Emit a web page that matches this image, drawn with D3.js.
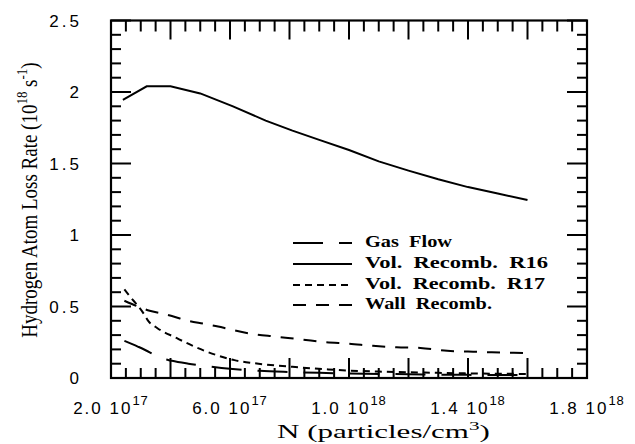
<!DOCTYPE html>
<html>
<head>
<meta charset="utf-8">
<script src="https://cdn.jsdelivr.net/npm/d3@7"></script>
<style>
  body { margin: 0; background: #fff; }
  svg { display: block; }
  .tick-label { font-family: "Liberation Sans", Arial, sans-serif; font-size: 17px; letter-spacing: 2px; fill: #000; }
  .serif { font-family: "Liberation Serif", "Times New Roman", serif; fill: #000; }
</style>
</head>
<body>
<svg id="chart" width="635" height="444"></svg>
<script>
// Density N in units of 1e17 particles/cm^3, loss rates in units of 1e18 s^-1
const gasFlowN    = [2.45, 2.9, 3.3, 3.55, 4.05, 4.6, 5.15, 6.0, 7.0, 8.0, 9.0, 10.0, 12.0, 14.0, 16.0];
const gasFlowRate = [0.26, 0.22, 0.18, 0.15, 0.12, 0.10, 0.085, 0.065, 0.05, 0.042, 0.036, 0.032, 0.026, 0.022, 0.02];

const r16N    = [2.4, 3.2, 4.0, 5.0, 6.1, 7.2, 8.1, 9.0, 10.0, 11.0, 12.0, 13.0, 14.0, 15.0, 16.0];
const r16Rate = [1.945, 2.04, 2.04, 1.99, 1.90, 1.80, 1.73, 1.665, 1.594, 1.515, 1.45, 1.39, 1.335, 1.29, 1.245];

const r17N    = [2.45, 2.6, 3.1, 3.25, 3.55, 4.2, 4.85, 5.55, 6.15, 6.75, 7.5, 8.1, 8.7, 9.3, 10.0, 11.0, 12.0, 13.0, 14.0, 15.0, 16.0];
const r17Rate = [0.62, 0.58, 0.45, 0.40, 0.35, 0.28, 0.215, 0.16, 0.125, 0.105, 0.088, 0.078, 0.068, 0.06, 0.052, 0.045, 0.04, 0.036, 0.032, 0.03, 0.028];

const wallN    = [2.45, 2.9, 3.3, 3.75, 4.1, 4.6, 5.1, 5.6, 6.0, 6.7, 7.5, 8.4, 9.2, 10.0, 10.8, 11.6, 12.4, 13.3, 14.0, 14.8, 15.85];
const wallRate = [0.54, 0.50, 0.47, 0.45, 0.43, 0.40, 0.38, 0.36, 0.34, 0.31, 0.29, 0.27, 0.25, 0.24, 0.225, 0.215, 0.21, 0.19, 0.185, 0.18, 0.175];

const seriesNames  = ["Gas  Flow", "Vol.  Recomb.  R16", "Vol.  Recomb.  R17", "Wall  Recomb."];
const seriesDashes = ["30,16", null, "7,5", "13,10"];
const legendWidths = [87, 183, 180, 127];

const xTickValues    = [2, 6, 10, 14, 18];
const xTickMantissas = ["2.0", "6.0", "1.0", "1.4", "1.8"];
const xTickExponents = ["17", "17", "18", "18", "18"];
const yTickValues    = [0, 0.5, 1, 1.5, 2, 2.5];
const yTickLabels    = ["0", "0.5", "1", "1.5", "2", "2.5"];

const svg = d3.select("#chart");
const plotLeft = 111, plotRight = 587, plotTop = 20.5, plotBottom = 378;

const x = d3.scaleLinear().domain([2, 18]).range([plotLeft, plotRight]);
const y = d3.scaleLinear().domain([0, 2.5]).range([plotBottom, plotTop]);

const xMajor = d3.range(2, 18.001, 2);
const xMinor = d3.range(2, 18.001, 0.5).filter(v => Math.abs(v / 2 - Math.round(v / 2)) > 1e-6);
const yMinor = d3.range(0, 2.5001, 0.1).filter(v => Math.abs(v / 0.5 - Math.round(v / 0.5)) > 1e-6);

// Inward tick marks on all four sides of the frame
const ticks = svg.append("g").attr("stroke", "#000").attr("stroke-width", 2);
function vTicks(values, edge, len) {
  ticks.append("g").selectAll("line").data(values).join("line")
    .attr("x1", d => x(d)).attr("x2", d => x(d))
    .attr("y1", edge).attr("y2", edge + len);
}
function hTicks(values, edge, len) {
  ticks.append("g").selectAll("line").data(values).join("line")
    .attr("y1", d => y(d)).attr("y2", d => y(d))
    .attr("x1", edge).attr("x2", edge + len);
}
vTicks(xMajor, plotTop, 19);
vTicks(xMinor, plotTop, 11);
vTicks(xMajor, plotBottom, -20);
vTicks(xMinor, plotBottom, -10);
hTicks(yTickValues, plotLeft, 20);
hTicks(yMinor, plotLeft, 10);
hTicks(yTickValues, plotRight, -20);
hTicks(yMinor, plotRight, -10);

// Frame
svg.append("rect")
  .attr("x", plotLeft).attr("y", plotTop)
  .attr("width", plotRight - plotLeft).attr("height", plotBottom - plotTop)
  .attr("fill", "none").attr("stroke", "#000").attr("stroke-width", 2.2);

// Y tick labels
svg.append("g").selectAll("text").data(yTickValues).join("text")
  .attr("class", "tick-label")
  .attr("x", 82).attr("y", d => y(d))
  .attr("dy", "0.36em")
  .attr("text-anchor", "end")
  .style("letter-spacing", "3px")
  .text((d, i) => yTickLabels[i]);

// X tick labels with power-of-ten superscripts
const xLabels = svg.append("g");
xTickValues.forEach((v, i) => {
  const t = xLabels.append("text")
    .attr("class", "tick-label")
    .attr("x", x(v)).attr("y", 414)
    .attr("text-anchor", "middle");
  t.append("tspan").text(xTickMantissas[i] + " 10");
  t.append("tspan").attr("dy", -9).attr("font-size", 13).style("letter-spacing", "1px").text(xTickExponents[i]);
});

// Curves
const smooth = d3.line().x(d => x(d[0])).y(d => y(d[1])).curve(d3.curveMonotoneX);
const straight = d3.line().x(d => x(d[0])).y(d => y(d[1]));
const series = [
  d3.zip(gasFlowN, gasFlowRate),
  d3.zip(r16N, r16Rate),
  d3.zip(r17N, r17Rate),
  d3.zip(wallN, wallRate)
];
series.forEach((pts, i) => {
  svg.append("path")
    .attr("d", i === 1 ? straight(pts) : smooth(pts))
    .attr("fill", "none")
    .attr("stroke", "#000")
    .attr("stroke-width", 2)
    .attr("stroke-dasharray", seriesDashes[i]);
});

// Legend
const legendRows = [243, 264, 285, 305];
const legendBase = [247, 268, 289, 309];
const legend = svg.append("g");
seriesNames.forEach((name, i) => {
  legend.append("line")
    .attr("x1", 293).attr("x2", 352)
    .attr("y1", legendRows[i]).attr("y2", legendRows[i])
    .attr("stroke", "#000").attr("stroke-width", 2)
    .attr("stroke-dasharray", seriesDashes[i]);
  legend.append("text")
    .attr("class", "serif")
    .attr("x", 365).attr("y", legendBase[i])
    .attr("font-size", 16).attr("font-weight", "bold")
    .attr("textLength", legendWidths[i])
    .attr("lengthAdjust", "spacingAndGlyphs")
    .style("white-space", "pre")
    .text(name);
});

// Axis titles
const xTitle = svg.append("text").attr("class", "serif")
  .attr("x", 277).attr("y", 438)
  .attr("font-size", 19);
xTitle.append("tspan").text("N (particles/cm");
xTitle.append("tspan").attr("dy", -8).attr("font-size", 13).text("3");
xTitle.append("tspan").attr("dy", 8).text(")");
// the title is set wide, stretched horizontally from its left edge
{
  const w = xTitle.node().getBBox().width;
  const s = 213 / w;
  xTitle.attr("transform", `translate(277,0) scale(${s},1) translate(-277,0)`);
}

const yTitle = svg.append("text").attr("class", "serif")
  .attr("transform", "translate(37,200) rotate(-90) scale(1,1.2)")
  .attr("text-anchor", "middle")
  .attr("font-size", 19);
yTitle.append("tspan").text("Hydrogen Atom Loss Rate (10");
yTitle.append("tspan").attr("dy", -8).attr("font-size", 13).text("18");
yTitle.append("tspan").attr("dy", 8).text(" s");
yTitle.append("tspan").attr("dy", -8).attr("font-size", 13).text("-1");
yTitle.append("tspan").attr("dy", 8).text(")");
</script>
</body>
</html>
